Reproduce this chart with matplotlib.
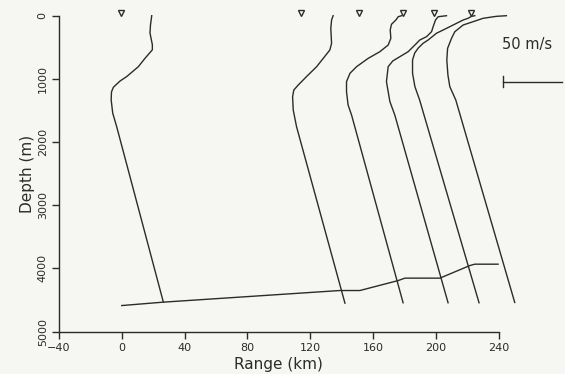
import matplotlib
matplotlib.use("Agg")
import matplotlib.pyplot as plt

# Sound-speed profiles plotted at their range offsets (range km, depth m)
p1_range = [19.1, 18.3, 18.0, 19.5, 19.5, 14.8, 10.6, 3.2, -1.1, -5.3, -6.5, -6.7, -5.7, -3.2, 26.5]
p1_depth = [0, 150, 275, 460, 540, 675, 807, 963, 1035, 1133, 1207, 1333, 1544, 1756, 4535]

p2_range = [134.5, 133.5, 133.0, 133.5, 132.4, 124.0, 117.6, 112.3, 109.5, 108.7, 109.1, 111.2, 142.0]
p2_depth = [0, 68, 200, 437, 543, 807, 963, 1097, 1176, 1282, 1492, 1756, 4551]

p3_range = [178.0, 175.9, 174.4, 171.6, 170.8, 171.2, 169.5, 164.2, 156.8, 149.4, 145.2, 143.0, 143.0, 144.0, 146.2, 179.0]
p3_depth = [0, 16, 68, 136, 226, 358, 464, 570, 675, 807, 912, 1044, 1203, 1413, 1571, 4545]

p4_range = [206.6, 201.3, 199.6, 198.1, 197.1, 193.9, 189.6, 186.5, 182.2, 176.9, 172.4, 169.5, 168.4, 170.6, 173.7, 207.6]
p4_depth = [0, 16, 68, 174, 253, 332, 385, 464, 570, 649, 717, 807, 1044, 1361, 1571, 4545]

p5_range = [224.6, 222.5, 220.3, 217.2, 213.0, 208.7, 204.5, 200.2, 194.9, 191.7, 188.5, 186.4, 185.0, 185.0, 186.5, 189.5, 227.3]
p5_depth = [0, 10, 41, 68, 120, 174, 226, 278, 385, 437, 516, 590, 701, 911, 1123, 1334, 4545]

p6_range = [244.7, 238.3, 229.9, 223.5, 217.2, 211.9, 209.8, 207.3, 206.8, 207.5, 208.7, 212.5, 250.0]
p6_depth = [0, 10, 41, 95, 147, 253, 358, 516, 701, 938, 1123, 1334, 4540]

# Sea floor
floor_range = [0, 26.5, 138.8, 151.5, 175.9, 180.1, 202.4, 221.4, 224.6, 239.4]
floor_depth = [4589, 4535, 4351, 4351, 4193, 4155, 4155, 3956, 3934, 3934]

# Station positions
station_range = [-0.5, 113.8, 150.9, 179.0, 198.7, 221.9]
station_depth = [-40] * len(station_range)

x_ticks = [-40, 0, 40, 80, 120, 160, 200, 240]
y_ticks = [0, 1000, 2000, 3000, 4000, 5000]

bg = "#f6f7f2"
ink = "#2b2b2b"

fig = plt.figure(figsize=(5.65, 3.74), dpi=100, facecolor=bg)
ax = fig.add_axes([0.1041, 0.1136, 0.7791, 0.8444])
ax.set_facecolor(bg)

profiles = [(p1_range, p1_depth), (p2_range, p2_depth), (p3_range, p3_depth),
            (p4_range, p4_depth), (p5_range, p5_depth), (p6_range, p6_depth)]
for r, d in profiles:
    ax.plot(r, d, color=ink, lw=1.0, clip_on=False)

ax.plot(floor_range, floor_depth, color=ink, lw=1.0)

ax.plot(station_range, station_depth, linestyle="none", marker="v", markersize=4.5,
        markerfacecolor=bg, markeredgecolor=ink, markeredgewidth=1.0, clip_on=False)

# 50 m/s scale bar
ax.plot([242.6, 280], [1044, 1044], color=ink, lw=1.0, clip_on=False)
ax.plot([242.6, 242.6], [960, 1128], color=ink, lw=1.0, clip_on=False)
ax.text(242.0, 460, "50 m/s", fontsize=10.5, color=ink, ha="left", va="center", clip_on=False)

ax.set_xlim(-40, 240)
ax.set_ylim(5000, 0)
ax.set_xticks(x_ticks)
ax.set_yticks(y_ticks)
ax.set_xticklabels([str(t).replace("-", "\u2212") for t in x_ticks], fontsize=8, color=ink)
ax.set_yticklabels([str(t) for t in y_ticks], fontsize=8, color=ink, rotation=90, va="center")

for side in ("top", "right"):
    ax.spines[side].set_visible(False)
for side in ("left", "bottom"):
    ax.spines[side].set_color(ink)
    ax.spines[side].set_linewidth(1.0)
ax.tick_params(axis="both", direction="out", length=5, width=1.0, color=ink, pad=3)

ax.set_xlabel("Range (km)", fontsize=11, color=ink, labelpad=3)
ax.set_ylabel("Depth (m)", fontsize=11, color=ink, labelpad=2)

fig.savefig("out.png", dpi=100, facecolor=bg)
